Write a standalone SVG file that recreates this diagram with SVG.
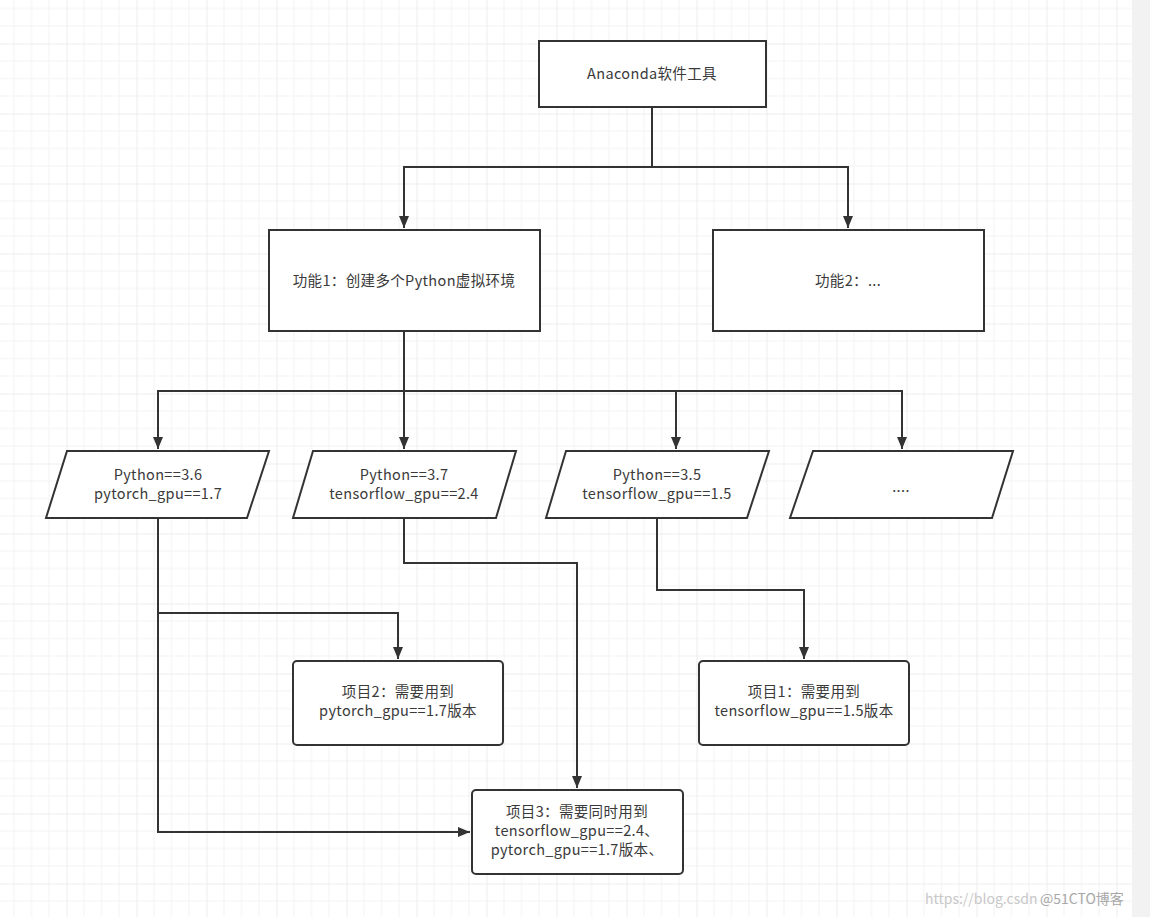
<svg xmlns="http://www.w3.org/2000/svg" width="1150" height="917" viewBox="0 0 1150 917">
<defs>
<pattern id="grid" x="-3.5" y="-26.5" width="70" height="70" patternUnits="userSpaceOnUse">
<path d="M17.5 0V70M35 0V70M52.5 0V70M0 17.5H70M0 35H70M0 52.5H70" stroke="#f3f3f3" stroke-width="1" fill="none"/>
<path d="M0 0V70M0 0H70" stroke="#e8e8e8" stroke-width="1.5" fill="none"/>
</pattern>
<marker id="arr" markerWidth="13" markerHeight="12" refX="12" refY="5.5" orient="auto" markerUnits="userSpaceOnUse">
<path d="M0,0.5 L12,5.5 L0,10.5 z" fill="#333"/>
</marker>
</defs>
<style>
.box{fill:#fff;stroke:#333;stroke-width:2}
.t{font-family:"Microsoft YaHei","Noto Sans CJK SC","Noto Sans",sans-serif;font-size:14.5px;fill:#3a3a3a;text-anchor:middle;letter-spacing:0.35px}
.edge{fill:none;stroke:#333;stroke-width:2}
.wm{font-family:"Noto Sans CJK SC",sans-serif;font-size:14px;fill:#c8c8c8}
</style>
<rect width="1150" height="917" fill="#fff"/>
<rect width="1132" height="917" fill="url(#grid)"/>
<rect x="1132" y="0" width="18" height="917" fill="#f2f2f2"/>

<g id="connectors">
<path class="edge" d="M652 107V167H404V228" marker-end="url(#arr)"/>
<path class="edge" d="M652 167H848V228" marker-end="url(#arr)"/>
<path class="edge" d="M404 331V391H158V449" marker-end="url(#arr)"/>
<path class="edge" d="M404 391V449" marker-end="url(#arr)"/>
<path class="edge" d="M404 391H676V449" marker-end="url(#arr)"/>
<path class="edge" d="M676 391H902V449" marker-end="url(#arr)"/>
<path class="edge" d="M158 518V832H470" marker-end="url(#arr)"/>
<path class="edge" d="M158 613H398V659" marker-end="url(#arr)"/>
<path class="edge" d="M404 518V563H577V788" marker-end="url(#arr)"/>
<path class="edge" d="M657 518V590H804V659" marker-end="url(#arr)"/>
</g>

<g id="anaconda">
<rect class="box" x="539" y="41" width="227" height="66"/>
<text class="t" x="652" y="79">Anaconda软件工具</text>
</g>
<g id="func1">
<rect class="box" x="269" y="230" width="271" height="101"/>
<text class="t" x="404" y="286">功能1：创建多个Python虚拟环境</text>
</g>
<g id="func2">
<rect class="box" x="713" y="230" width="271" height="101"/>
<text class="t" x="848" y="286">功能2：...</text>
</g>
<g id="env36">
<polygon class="box" points="67,451 269,451 247,518 46,518"/>
<text class="t" x="158" y="480">Python==3.6</text>
<text class="t" x="158" y="499">pytorch_gpu==1.7</text>
</g>
<g id="env37">
<polygon class="box" points="313,451 516,451 496,518 293,518"/>
<text class="t" x="404" y="480">Python==3.7</text>
<text class="t" x="404" y="499">tensorflow_gpu==2.4</text>
</g>
<g id="env35">
<polygon class="box" points="566,451 769,451 747,518 546,518"/>
<text class="t" x="657" y="480">Python==3.5</text>
<text class="t" x="657" y="499">tensorflow_gpu==1.5</text>
</g>
<g id="envmore">
<polygon class="box" points="813,451 1013,451 992,518 790,518"/>
<text class="t" x="901" y="492">....</text>
</g>
<g id="proj2">
<rect class="box" x="293" y="661" width="210" height="84" rx="4"/>
<text class="t" x="398" y="697">项目2：需要用到</text>
<text class="t" x="398" y="716">pytorch_gpu==1.7版本</text>
</g>
<g id="proj1">
<rect class="box" x="699" y="661" width="210" height="84" rx="4"/>
<text class="t" x="804" y="697">项目1：需要用到</text>
<text class="t" x="804" y="716">tensorflow_gpu==1.5版本</text>
</g>
<g id="proj3">
<rect class="box" x="472" y="790" width="211" height="84" rx="4"/>
<text class="t" x="577" y="817">项目3：需要同时用到</text>
<text class="t" x="577" y="836">tensorflow_gpu==2.4、</text>
<text class="t" x="577" y="855">pytorch_gpu==1.7版本、</text>
</g>
<g id="watermark">
<text class="wm" x="925" y="904">https://blog.csdn</text>
<text class="wm" x="1040" y="904" style="fill:#a8a8a8">@51CTO博客</text>
</g>
</svg>
